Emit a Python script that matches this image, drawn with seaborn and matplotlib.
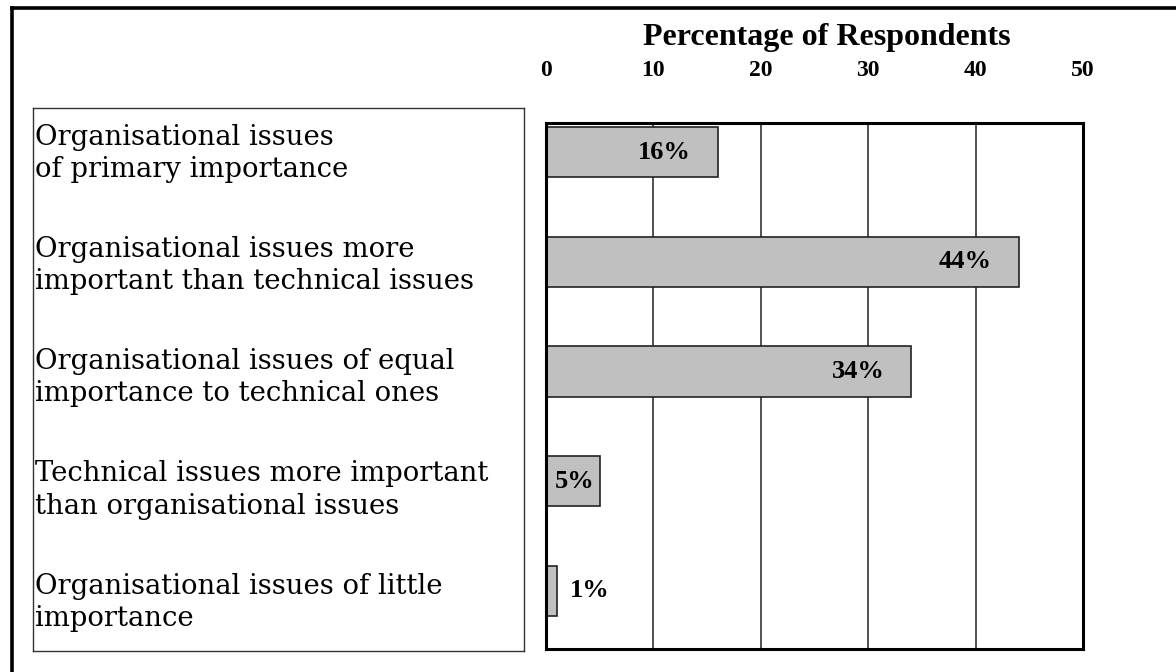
import matplotlib
matplotlib.use("Agg")
import matplotlib.pyplot as plt
import seaborn as sns
import pandas as pd
from matplotlib.lines import Line2D

categories = [
    "Organisational issues\nof primary importance",
    "Organisational issues more\nimportant than technical issues",
    "Organisational issues of equal\nimportance to technical ones",
    "Technical issues more important\nthan organisational issues",
    "Organisational issues of little\nimportance",
]
percentages = [16, 44, 34, 5, 1]
tick_values = [0, 10, 20, 30, 40, 50]

data = pd.DataFrame({"category": categories, "pct": percentages})

sns.set_style("white")
plt.rcParams["font.family"] = ["DejaVu Serif"]
plt.rcParams["text.color"] = "black"
plt.rcParams["xtick.color"] = "black"

W, H = 1176, 672
fig = plt.figure(figsize=(W / 100, H / 100), dpi=100)


def box(x0, y0, x1, y1):
    # pixel box (top-left origin) -> figure fraction rect
    return [x0 / W, 1 - y1 / H, (x1 - x0) / W, (y1 - y0) / H]


# outer frame: only left and top lines
fig.add_artist(Line2D([12 / W, 12 / W], [0, 1 - 8 / H], color="black", lw=2.6,
                      transform=fig.transFigure, solid_capstyle="projecting"))
fig.add_artist(Line2D([12 / W, 1], [1 - 8 / H, 1 - 8 / H], color="black", lw=2.6,
                      transform=fig.transFigure, solid_capstyle="projecting"))

# left label box
lab_ax = fig.add_axes(box(33, 108, 524, 651))
lab_ax.set_xlim(0, 1)
lab_ax.set_ylim(4.455, -0.384)
lab_ax.set_xticks([])
lab_ax.set_yticks([])
for s in lab_ax.spines.values():
    s.set_color("#333333")
    s.set_linewidth(1.0)
for i, cat in enumerate(categories):
    lab_ax.text(0.004, i + 0.02, cat, ha="left", va="center", fontsize=19.8,
                family=["DejaVu Serif"], linespacing=1.25, color="black")

# bar chart
ax = fig.add_axes(box(546, 123, 1083, 649))
sns.barplot(data=data, y="category", x="pct", orient="h", color="#c0c0c0",
            edgecolor="#222222", linewidth=1.2, width=0.46, saturation=1, ax=ax)
ax.set_xlim(0, 50)
ax.set_ylim(4.53, -0.265)
ax.set_xticks(tick_values)
ax.set_xticklabels([str(t) for t in tick_values], fontsize=17, fontweight="bold",
                   family=["Liberation Serif"], color="black")
ax.xaxis.tick_top()
ax.tick_params(axis="x", length=0, pad=30)
ax.set_yticks([])
ax.set_xlabel("")
ax.set_ylabel("")
for t in tick_values[1:-1]:
    ax.axvline(t, color="#222222", lw=1.1, zorder=0)
for s in ax.spines.values():
    s.set_color("black")
    s.set_linewidth(2.2)

for i, v in enumerate(percentages):
    if v >= 10:
        x, ha = v - 2.5, "right"
    elif v >= 3:
        x, ha = 0.8, "left"
    else:
        x, ha = v + 1.2, "left"
    ax.text(x, i, f"{v}%", ha=ha, va="center", fontsize=19, fontweight="bold",
            family=["Liberation Serif"], color="black")

fig.text(827 / W, 1 - 38 / H, "Percentage of Respondents", ha="center", va="center",
         fontsize=23, fontweight="bold", family=["Liberation Serif"], color="black")

fig.savefig("out.png", dpi=100, facecolor="white")
